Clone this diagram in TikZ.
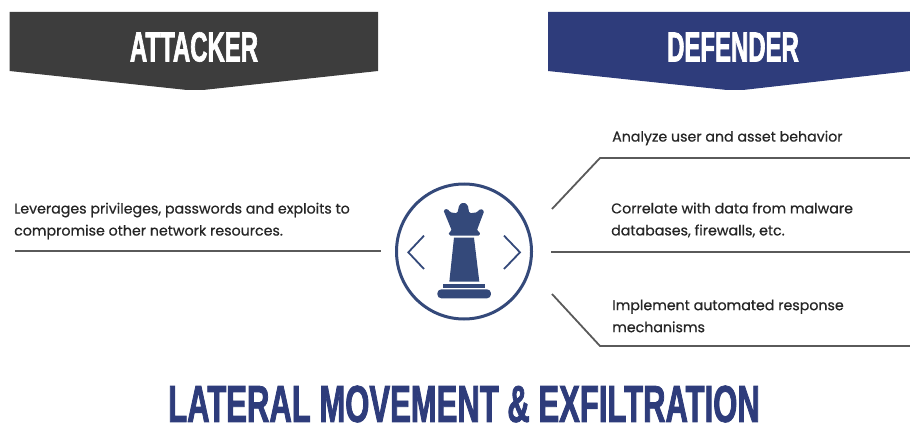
\documentclass[tikz,border=0pt]{standalone}
\usepackage{fontspec}
\setmainfont[FakeBold=0.6]{Poppins}
\newfontfamily\headfont[FakeStretch=0.57,FakeBold=1.5]{Liberation Sans}
\newfontfamily\titlefont[FakeStretch=0.597,FakeBold=1.5]{Liberation Sans}
\definecolor{attackgray}{HTML}{3D3D3D}
\definecolor{defendblue}{HTML}{2E3C7B}
\definecolor{rookblue}{HTML}{34497A}
\definecolor{linegray}{HTML}{5A5A5A}
\tikzset{
    banner/.style={draw=none,fill=#1},
    bannertext/.style={text=white,inner sep=0pt,font=\headfont\bfseries\fontsize{42}{42}\selectfont},
    bodytext/.style={anchor=west,align=left,inner sep=0pt,text=black!85,font=\fontsize{14.2}{22}\selectfont},
    rule/.style={draw=linegray,line width=1.8pt,line join=round}
}
\begin{document}
\begin{tikzpicture}[x=1pt,y=-1pt]
        \useasboundingbox (0,0) rectangle (910,425);

        % draw the two banners
        \fill[banner=attackgray] (9.5,12) -- (378,12) -- (378,71) -- (203,90) -- (187,90) -- (9.5,71) -- cycle;
        \fill[banner=defendblue] (548,12) -- (910,12) -- (910,71) -- (743,90) -- (727,90) -- (548,71) -- cycle;
        \node[bannertext] (attacker) at (194,47) {ATTACKER};
        \node[bannertext] (defender) at (733,47) {DEFENDER};

        % the text on each side
        \node[bodytext] (leverages) at (14,221) {Leverages privileges, passwords and exploits to\\compromise other network resources.};
        \node[bodytext] (analyze) at (612,138) {Analyze user and asset behavior};
        \node[bodytext] (correlate) at (611,220) {Correlate with data from malware\\databases, firewalls, etc.};
        \node[bodytext] (implement) at (612,316) {Implement automated response\\mechanisms};

        % end points of the rules
        \coordinate (leftstart) at (15,251);
        \coordinate (leftend) at (381,251);
        \coordinate (midstart) at (551,252);
        \coordinate (midend) at (910,252);
        \coordinate (upstart) at (552,209);
        \coordinate (upbend) at (600,158);
        \coordinate (upend) at (910,158);
        \coordinate (lowstart) at (552,294);
        \coordinate (lowbend) at (600,346);
        \coordinate (lowend) at (910,346);

        % draw the rules
        \draw[rule] (leftstart) -- (leftend);
        \draw[rule] (midstart) -- (midend);
        \draw[rule] (upstart) -- (upbend) -- (upend);
        \draw[rule] (lowstart) -- (lowbend) -- (lowend);

        % draw the circle
        \node[circle,draw=rookblue,line width=3pt,minimum size=135pt,inner sep=0pt] (ring) at (464,251.5) {};

        % the rook and both chevrons, in zoomed units
        \begin{scope}[shift={(380,170)},x=0.3333pt,y=-0.3333pt]
            \foreach \sx/\tx in {132/85,372/420}
                \draw[rookblue,line width=1.8pt,line join=miter] (\sx,197) -- (\tx,247) -- (\sx,297);
            \fill[rookblue,rounded corners=1.5pt] (190,120) -- (203,116) -- (210,127) -- (232,130) -- (238,104) -- (250,97)
                -- (263,104) -- (268,130) -- (292,127) -- (300,116) -- (313,122) -- (290,183) -- (300,185) -- (300,197) -- (207,197) -- (207,185) -- (216,183) -- cycle;
            \fill[rookblue] (222,203) -- (282,203) -- (298,335) -- (208,335) -- cycle;
            \fill[rookblue] (188,342) rectangle (316,354);
            \fill[rookblue,rounded corners=4pt] (172,358) rectangle (333,385);
        \end{scope}

        % the title
        \node[inner sep=0pt,text=defendblue,font=\titlefont\bfseries\fontsize{52}{52}\selectfont] (title) at (464,404) {LATERAL MOVEMENT \& EXFILTRATION};
\end{tikzpicture}
\end{document}
